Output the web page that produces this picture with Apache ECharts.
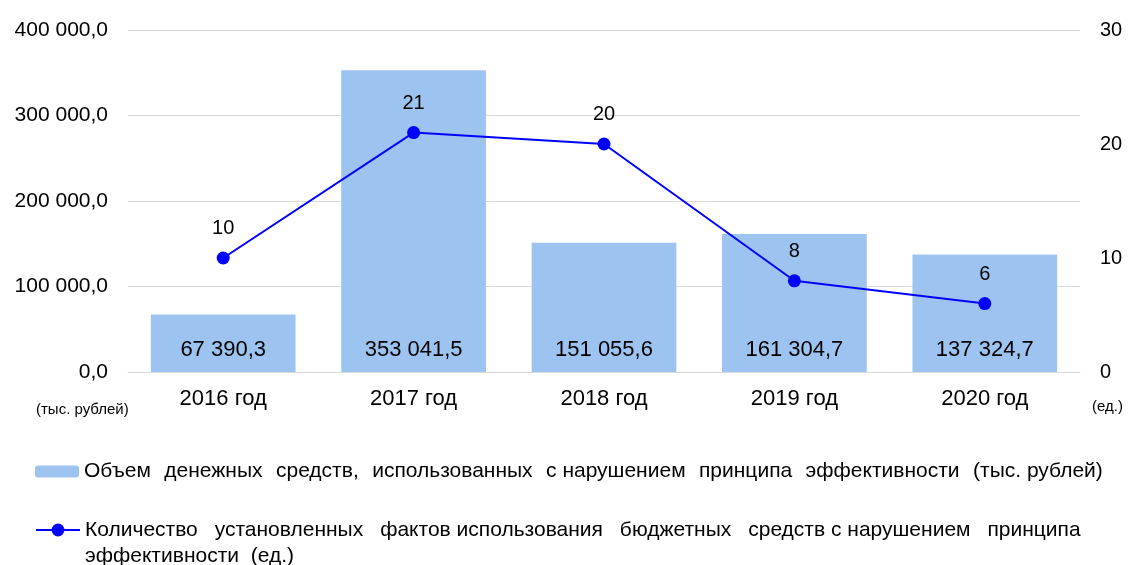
<!DOCTYPE html>
<html><head><meta charset="utf-8">
<script src="https://cdn.jsdelivr.net/npm/echarts@6/dist/echarts.min.js"></script>
<style>html,body{margin:0;padding:0;background:#fff}#c{width:1128px;height:565px}</style>
</head><body><div id="c"></div>
<script>
const categories = ['2016 год','2017 год','2018 год','2019 год','2020 год'];
const moneyValues = [67390.3, 353041.5, 151055.6, 161304.7, 137324.7];
const countValues = [10, 21, 20, 8, 6];
const barName = 'Объем денежных средств, использованных с нарушением принципа эффективности (тыс. рублей)';
const lineName = 'Количество установленных фактов использования бюджетных средств с нарушением принципа эффективности (ед.)';
const barLegendWords = ['Объем','денежных','средств,','использованных','с нарушением','принципа','эффективности','(тыс. рублей)'];
const lineLegendWords1 = ['Количество','установленных','фактов использования','бюджетных','средств с нарушением','принципа'];
const lineLegendLine2 = 'эффективности  (ед.)';
const leftUnit = '(тыс. рублей)';
const rightUnit = '(ед.)';

function fmt(v, d) {
  const s = v.toFixed(d);
  const parts = s.split('.');
  const int = parts[0].replace(/\B(?=(\d{3})+(?!\d))/g, ' ');
  return parts.length > 1 ? int + ',' + parts[1] : int;
}
const FONT = '"Liberation Sans", Arial, sans-serif';
const LEG_FS = 21;
const ctx = document.createElement('canvas').getContext('2d');
function justify(words, target) {
  ctx.font = LEG_FS + 'px ' + FONT;
  const sp = ctx.measureText(' ').width;
  const hair = ctx.measureText('\u200A').width || 1;
  let w = 0; words.forEach(t => w += ctx.measureText(t).width);
  const per = (target - w) / (words.length - 1);
  const n = Math.max(1, Math.floor(per / sp));
  const h = Math.max(0, Math.round((per - n * sp) / hair));
  const gap = ' '.repeat(n) + '\u200A'.repeat(h);
  return words.join(gap);
}
const barLegendText = justify(barLegendWords, 1021);
const lineLegendText = '\n' + justify(lineLegendWords1, 993) + '\n' + lineLegendLine2;

const chart = echarts.init(document.getElementById('c'));
chart.setOption({
  animation: false,
  textStyle: {fontFamily: FONT},
  grid: {left: 128, right: 48, top: 30, bottom: 193},
  xAxis: {
    type: 'category', data: categories,
    axisLine: {lineStyle: {color: '#d9d9d9'}}, axisTick: {show: false},
    axisLabel: {color: '#000', fontSize: 22, margin: 16}
  },
  yAxis: [
    {type: 'value', min: 0, max: 400000, interval: 100000,
     axisLine: {show: false}, axisTick: {show: false},
     splitLine: {lineStyle: {color: '#d9d9d9'}},
     axisLabel: {color: '#000', fontSize: 21, margin: 20, formatter: v => fmt(v, 1)}},
    {type: 'value', min: 0, max: 30, interval: 10,
     axisLine: {show: false}, axisTick: {show: false}, splitLine: {show: false},
     axisLabel: {color: '#000', fontSize: 20, margin: 20}}
  ],
  legend: [
    {orient: 'vertical', left: 35, top: 461, padding: 0, itemWidth: 44, itemHeight: 12,
     data: [barName], formatter: () => barLegendText,
     textStyle: {fontSize: LEG_FS, color: '#000', fontFamily: FONT}},
    {orient: 'vertical', left: 35, top: 491, padding: 0, itemWidth: 44, itemHeight: 16,
     data: [lineName], formatter: () => lineLegendText,
     textStyle: {fontSize: LEG_FS, color: '#000', fontFamily: FONT, lineHeight: 26}}
  ],
  graphic: [
    {type: 'text', left: 36, top: 402, style: {text: leftUnit, fontSize: 15, fill: '#000', fontFamily: FONT}},
    {type: 'text', left: 1092, top: 399, style: {text: rightUnit, fontSize: 15, fill: '#000', fontFamily: FONT}}
  ],
  series: [
    {name: barName, type: 'bar', data: moneyValues, barWidth: '76%',
     itemStyle: {color: '#9DC3F0'},
     label: {show: true, position: 'insideBottom', distance: 11, color: '#000', fontSize: 22,
             formatter: p => fmt(p.value, 1)}},
    {name: lineName, type: 'line', yAxisIndex: 1, data: countValues,
     lineStyle: {color: '#0000FF', width: 2}, itemStyle: {color: '#0000FF'},
     symbol: 'circle', symbolSize: 13,
     label: {show: true, position: 'top', distance: 13, color: '#000', fontSize: 20}}
  ]
});
</script></body></html>
